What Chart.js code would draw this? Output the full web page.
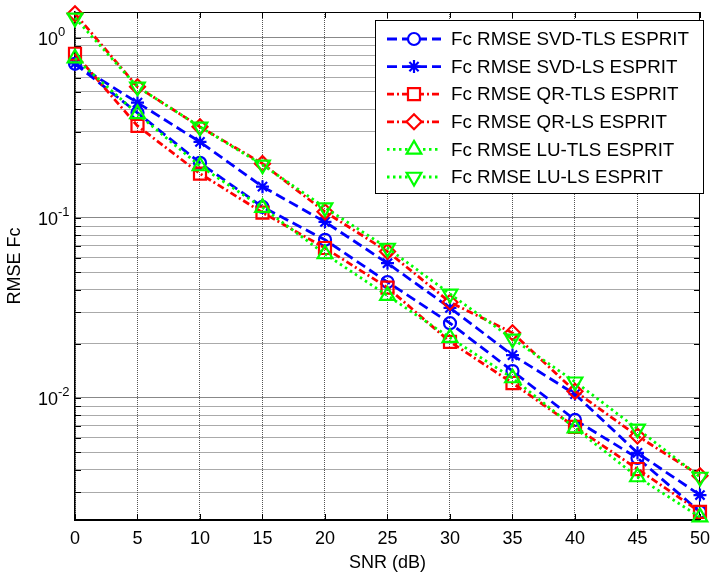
<html>
<head>
  <script src="https://cdn.jsdelivr.net/npm/chart.js@4"></script>
  <style>
    html, body {
      width: 100%;
      height: 100%;
      margin: 0;
      overflow: hidden;
      background: white;
    }
    .wrap {position: relative; width: 718px; height: 578px;}
  </style>
</head>
<body>
  <div class="wrap">
    <canvas id="graph-canvas" width="718" height="578"></canvas>
  </div>
  <script>
    // SNR in dB
    const snr = [0, 5, 10, 15, 20, 25, 30, 35, 40, 45, 50];
    // RMSE values
    const svdTls = [0.717, 0.383, 0.202, 0.115, 0.0755, 0.044, 0.026, 0.0141, 0.00755, 0.00464, 0.00233];
    const svdLs  = [0.72, 0.436, 0.264, 0.149, 0.095, 0.056, 0.0316, 0.0173, 0.0105, 0.00495, 0.00289];
    const qrTls  = [0.815, 0.324, 0.176, 0.107, 0.068, 0.041, 0.0205, 0.0121, 0.0069, 0.00403, 0.00233];
    const qrLs   = [1.36, 0.534, 0.32, 0.2, 0.108, 0.065, 0.034, 0.023, 0.0109, 0.00615, 0.0037];
    const luTls  = [0.77, 0.378, 0.194, 0.114, 0.063, 0.037, 0.0216, 0.0129, 0.0068, 0.00364, 0.00218];
    const luLs   = [1.29, 0.534, 0.32, 0.197, 0.114, 0.068, 0.0378, 0.0213, 0.0123, 0.00673, 0.00364];
    const seriesNames = ['Fc RMSE SVD-TLS ESPRIT', 'Fc RMSE SVD-LS ESPRIT', 'Fc RMSE QR-TLS ESPRIT',
                         'Fc RMSE QR-LS ESPRIT', 'Fc RMSE LU-TLS ESPRIT', 'Fc RMSE LU-LS ESPRIT'];
    // y tick labels (10^exp)
    const yDecades = [0.01, 0.1, 1];
    const yExps = ['-2', '-1', '0'];
    const yMin = 0.0021;
    const yMax = 1.39;

    const FONT = '"Liberation Sans", Arial, sans-serif';
    const BLUE = '#0000ff', RED = '#ff0000', GREEN = '#00ff00';

    function mkSet(i, data, color, dash, style, radius, rot) {
      return {
        label: seriesNames[i],
        data: data,
        borderColor: color,
        backgroundColor: 'rgba(0,0,0,0)',
        pointBorderColor: color,
        pointBackgroundColor: 'rgba(0,0,0,0)',
        borderWidth: 2.8,
        borderDash: dash,
        pointStyle: style,
        pointRadius: radius,
        pointRotation: rot || 0,
        pointBorderWidth: 2.2,
        clip: false,
        order: 6 - i,
      };
    }

    // inside ticks, box, y labels
    const axesExtra = {
      id: 'axesExtra',
      beforeDatasetsDraw(chart) {
        const ctx = chart.ctx;
        const a = chart.chartArea;
        const xs = chart.scales.x, ys = chart.scales.y;
        ctx.save();
        ctx.strokeStyle = '#000';
        ctx.lineWidth = 1;
        ctx.beginPath();
        ctx.moveTo(a.left, a.top + 0.5); ctx.lineTo(a.right, a.top + 0.5);
        ctx.moveTo(a.right - 0.5, a.top); ctx.lineTo(a.right - 0.5, a.bottom);
        xs.ticks.forEach(t => {
          const x = Math.round(xs.getPixelForValue(t.value)) + 0.5;
          ctx.moveTo(x, a.bottom); ctx.lineTo(x, a.bottom - 6);
          ctx.moveTo(x, a.top); ctx.lineTo(x, a.top + 6);
        });
        ys.ticks.forEach(t => {
          const y = Math.round(ys.getPixelForValue(t.value)) + 0.5;
          ctx.moveTo(a.left, y); ctx.lineTo(a.left + 6, y);
          ctx.moveTo(a.right, y); ctx.lineTo(a.right - 6, y);
        });
        ctx.stroke();
        // y labels with superscript
        ctx.fillStyle = '#000';
        yDecades.forEach((v, i) => {
          const y = ys.getPixelForValue(v);
          ctx.font = '18px ' + FONT;
          ctx.textAlign = 'left';
          ctx.textBaseline = 'middle';
          ctx.fillText('10', 38, y + 2);
          const w = ctx.measureText('10').width;
          ctx.font = '13px ' + FONT;
          ctx.textBaseline = 'alphabetic';
          ctx.fillText(yExps[i], 38 + w, y - 2);
        });
        ctx.restore();
      },
      afterDraw(chart) {
        // legend box
        const ctx = chart.ctx;
        const bx = 375, by = 20, bw = 328, bh = 173;
        ctx.save();
        ctx.fillStyle = '#fff';
        ctx.fillRect(bx, by, bw, bh);
        ctx.strokeStyle = '#000';
        ctx.lineWidth = 1;
        ctx.strokeRect(bx + 0.5, by + 0.5, bw, bh);
        chart.data.datasets.forEach((ds, i) => {
          const y = 39 + i * 27.6;
          ctx.strokeStyle = ds.borderColor;
          ctx.lineWidth = ds.borderWidth;
          ctx.setLineDash(ds.borderDash);
          ctx.beginPath();
          ctx.moveTo(387, y); ctx.lineTo(441, y);
          ctx.stroke();
          ctx.setLineDash([]);
          ctx.fillStyle = '#fff';
          ctx.lineWidth = ds.pointBorderWidth;
          Chart.helpers.drawPoint(ctx, {
            pointStyle: ds.pointStyle, radius: ds.pointRadius,
            rotation: ds.pointRotation, borderWidth: ds.pointBorderWidth
          }, 414, y);
          ctx.fillStyle = '#000';
          ctx.font = '18.8px ' + FONT;
          ctx.textAlign = 'left';
          ctx.textBaseline = 'middle';
          ctx.fillText(ds.label, 451, y + 1);
        });
        ctx.restore();
      }
    };

    const canvas = document.getElementById('graph-canvas');
    const chart = new Chart(canvas, {
      type: 'line',
      data: {
        labels: snr,
        datasets: [
          mkSet(0, svdTls, BLUE, [10, 5], 'circle', 6),
          mkSet(1, svdLs, BLUE, [10, 5], 'star', 6.5),
          mkSet(2, qrTls, RED, [7, 3, 2, 3], 'rect', 8.5),
          mkSet(3, qrLs, RED, [7, 3, 2, 3], 'rectRot', 7.5),
          mkSet(4, luTls, GREEN, [2.5, 3.5], 'triangle', 8.5),
          mkSet(5, luLs, GREEN, [2.5, 3.5], 'triangle', 8.5, 180),
        ],
      },
      options: {
        responsive: false,
        animation: false,
        layout: {padding: {top: 12, right: 13, left: 0, bottom: 0}},
        plugins: {legend: {display: false}, tooltip: {enabled: false}},
        scales: {
          x: {
            type: 'linear',
            min: 0,
            max: 50,
            afterFit: s => { s.height = 58; },
            ticks: {stepSize: 5, color: '#000', font: {size: 18, family: FONT}, padding: 8},
            grid: {color: '#555', drawTicks: false, lineWidth: 1},
            border: {color: '#000', width: 2, dash: [1, 1]},
            title: {display: true, text: 'SNR (dB)', color: '#000', font: {size: 18, family: FONT}, padding: {top: 2}},
          },
          y: {
            type: 'logarithmic',
            min: yMin,
            max: yMax,
            afterFit: s => { s.width = 75; },
            afterBuildTicks: s => {
              const t = [];
              [0.001, 0.01, 0.1, 1].forEach(d => {
                for (let k = 1; k <= 9; k++) {
                  const v = k * d;
                  if (v >= yMin && v <= yMax) t.push({value: v, major: k === 1});
                }
              });
              s.ticks = t;
            },
            ticks: {display: false},
            grid: {
              color: c => (c.tick && c.tick.major ? '#111' : '#555'),
              drawTicks: false,
              lineWidth: 1,
            },
            border: {color: '#000', width: 1.5, dash: [1, 1]},
            title: {display: true, text: 'RMSE Fc', color: '#000', font: {size: 18, family: FONT}, padding: {top: 4}},
          },
        },
      },
      plugins: [axesExtra],
    });
  </script>
</body>
</html>
